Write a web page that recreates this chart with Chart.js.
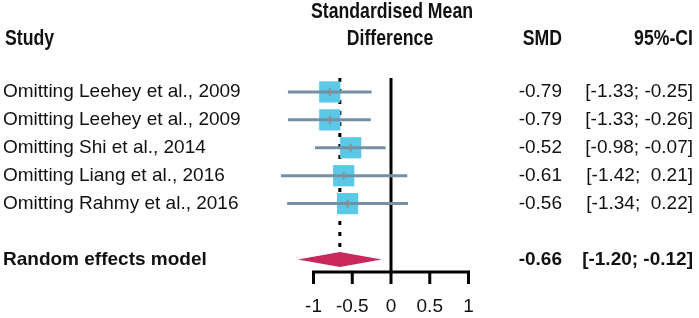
<!DOCTYPE html>
<html>
<head>
<meta charset="utf-8">
<script src="https://cdn.jsdelivr.net/npm/chart.js@4/dist/chart.umd.min.js"></script>
<style>
  html, body { margin: 0; padding: 0; background: #fff; }
  #wrap { width: 699px; height: 318px; position: relative; }
</style>
</head>
<body>
<div id="wrap"><canvas id="forest"></canvas></div>
<script>
// forest plot data
const studies = [
  'Omitting Leehey et al., 2009',
  'Omitting Leehey et al., 2009',
  'Omitting Shi et al., 2014',
  'Omitting Liang et al., 2016',
  'Omitting Rahmy et al., 2016'
];
const smd = [-0.79, -0.79, -0.52, -0.61, -0.56];
const ciLow = [-1.33, -1.33, -0.98, -1.42, -1.34];
const ciHigh = [-0.25, -0.26, -0.07, 0.21, 0.22];
const smdLabels = ['-0.79', '-0.79', '-0.52', '-0.61', '-0.56'];
const ciLabels = ['[-1.33; -0.25]', '[-1.33; -0.26]', '[-0.98; -0.07]', '[-1.42;  0.21]', '[-1.34;  0.22]'];

const pooledName = 'Random effects model';
const pooledSmd = -0.66;
const pooledLow = -1.20;
const pooledHigh = -0.12;
const pooledSmdLabel = '-0.66';
const pooledCiLabel = '[-1.20; -0.12]';

const xTicks = [-1, -0.5, 0, 0.5, 1];
const xTickLabels = ['-1', '-0.5', '0', '0.5', '1'];

const rows = studies.map((s, i) => i + 1);
const pooledRow = studies.length + 2;

const regular = '19px "Liberation Sans", Arial, sans-serif';
const bold = 'bold 19px "Liberation Sans", Arial, sans-serif';
const head = 'bold 19px "Liberation Sans", Arial, sans-serif';

// headers look like a condensed bold face, so squeeze them a bit
function headText(ctx, text, px, py, align) {
  ctx.save();
  ctx.translate(px, py);
  ctx.scale(0.93, 1.12);
  ctx.textAlign = align;
  ctx.fillText(text, 0, 0);
  ctx.restore();
}

const forestPlugin = {
  id: 'forest',
  beforeDatasetsDraw(chart) {
    const ctx = chart.ctx;
    const x = chart.scales.x, y = chart.scales.y;
    const area = chart.chartArea;
    ctx.save();
    // line of no effect
    ctx.strokeStyle = '#000';
    ctx.lineWidth = 3;
    ctx.beginPath();
    ctx.moveTo(x.getPixelForValue(0), area.top);
    ctx.lineTo(x.getPixelForValue(0), area.bottom);
    ctx.stroke();
    // pooled estimate dotted line
    ctx.setLineDash([4, 7]);
    ctx.beginPath();
    ctx.moveTo(x.getPixelForValue(pooledSmd), area.top);
    ctx.lineTo(x.getPixelForValue(pooledSmd), y.getPixelForValue(pooledRow - 0.4));
    ctx.stroke();
    ctx.restore();
  },
  afterDatasetsDraw(chart) {
    const ctx = chart.ctx;
    const x = chart.scales.x, y = chart.scales.y;
    const area = chart.chartArea;
    ctx.save();

    // confidence intervals
    ctx.strokeStyle = '#7390a4';
    ctx.lineWidth = 3;
    rows.forEach((r, i) => {
      const py = y.getPixelForValue(r);
      ctx.beginPath();
      ctx.moveTo(x.getPixelForValue(ciLow[i]), py);
      ctx.lineTo(x.getPixelForValue(ciHigh[i]), py);
      ctx.stroke();
      ctx.save();
      ctx.strokeStyle = '#8c8f96';
      ctx.lineWidth = 2;
      ctx.beginPath();
      ctx.moveTo(x.getPixelForValue(smd[i]), py - 4);
      ctx.lineTo(x.getPixelForValue(smd[i]), py + 4);
      ctx.stroke();
      ctx.restore();
    });

    // diamond
    const dy = y.getPixelForValue(pooledRow);
    ctx.fillStyle = '#c8285c';
    ctx.beginPath();
    ctx.moveTo(x.getPixelForValue(pooledLow), dy);
    ctx.lineTo(x.getPixelForValue(pooledSmd), dy - 7.5);
    ctx.lineTo(x.getPixelForValue(pooledHigh), dy);
    ctx.lineTo(x.getPixelForValue(pooledSmd), dy + 7.5);
    ctx.closePath();
    ctx.fill();

    // x axis
    const ax = area.bottom;
    ctx.strokeStyle = '#000';
    ctx.lineWidth = 3;
    ctx.beginPath();
    ctx.moveTo(x.getPixelForValue(xTicks[0]) - 1.5, ax);
    ctx.lineTo(x.getPixelForValue(xTicks[xTicks.length - 1]) + 1.5, ax);
    ctx.stroke();
    ctx.fillStyle = '#111';
    ctx.font = regular;
    ctx.textAlign = 'center';
    ctx.textBaseline = 'middle';
    xTicks.forEach((t, i) => {
      const px = x.getPixelForValue(t);
      ctx.beginPath();
      ctx.moveTo(px, ax);
      ctx.lineTo(px, ax + 12);
      ctx.stroke();
      ctx.fillText(xTickLabels[i], px, ax + 35);
    });

    // headers
    ctx.font = head;
    headText(ctx, 'Study', 5, 39, 'left');
    headText(ctx, 'Standardised Mean', 392, 12, 'center');
    headText(ctx, 'Difference', 390, 39, 'center');
    headText(ctx, 'SMD', 562, 39, 'right');
    headText(ctx, '95%-CI', 693, 39, 'right');

    // row text
    ctx.font = regular;
    rows.forEach((r, i) => {
      const py = y.getPixelForValue(r);
      ctx.textAlign = 'left';
      ctx.fillText(studies[i], 3, py);
      ctx.textAlign = 'right';
      ctx.fillText(smdLabels[i], 562, py);
      ctx.fillText(ciLabels[i], 693, py);
    });
    ctx.font = bold;
    ctx.textAlign = 'left';
    ctx.fillText(pooledName, 3, dy);
    ctx.textAlign = 'right';
    ctx.fillText(pooledSmdLabel, 562, dy);
    ctx.fillText(pooledCiLabel, 693, dy);

    ctx.restore();
  }
};

new Chart(document.getElementById('forest'), {
  type: 'scatter',
  data: {
    datasets: [{
      label: 'SMD',
      data: rows.map((r, i) => ({ x: smd[i], y: r })),
      pointStyle: 'rect',
      pointRadius: 15,
      backgroundColor: '#5bc8e8',
      borderWidth: 0
    }]
  },
  options: {
    responsive: true,
    maintainAspectRatio: false,
    animation: false,
    events: [],
    layout: { padding: { left: 267, right: 215, top: 78, bottom: 46 } },
    plugins: { legend: { display: false }, tooltip: { enabled: false } },
    scales: {
      x: { type: 'linear', min: -1.6, max: 1.2, display: false },
      y: { type: 'linear', min: 0.5, max: 7.45, reverse: true, display: false }
    }
  },
  plugins: [forestPlugin]
});
</script>
</body>
</html>
